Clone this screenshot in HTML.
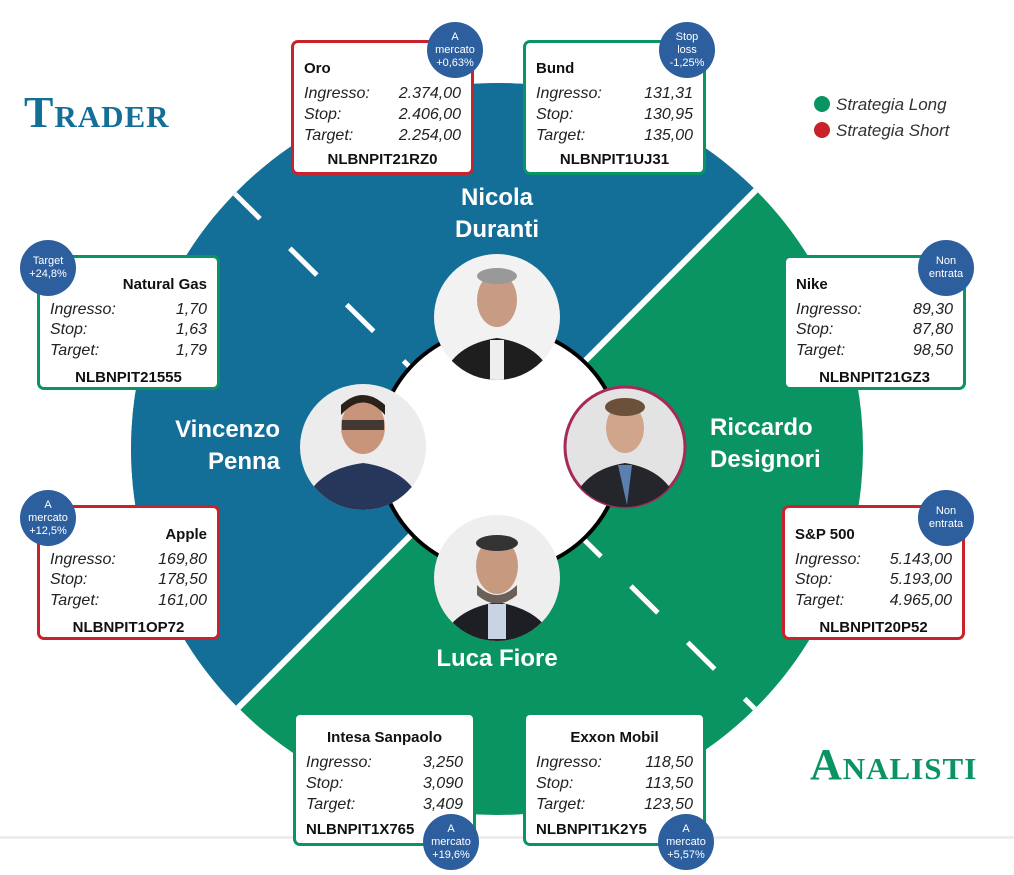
<!DOCTYPE html>
<html><head><meta charset="utf-8">
<style>
*{margin:0;padding:0;box-sizing:border-box}
html,body{width:1014px;height:875px;overflow:hidden}
body{background:#fff;position:relative;font-family:"Liberation Sans",sans-serif}
svg.bg{position:absolute;left:0;top:0}
.card{position:absolute;width:183px;height:135px;background:#fff;border:3px solid #0a9462;border-radius:7px}
.red{border-color:#c8232a}
.card div{position:absolute;left:10px;right:10px;font-size:16px;line-height:18px;color:#222}
.t{font-weight:bold;font-size:15px!important;color:#111!important}
.r{font-style:italic;font-weight:300}
.r span{float:right}
.c{font-weight:bold;text-align:center;font-size:15px!important;color:#111!important}
.badge{position:absolute;width:56px;height:56px;border-radius:50%;background:#2d5f9f;color:#fff;font-size:11px;line-height:13px;text-align:center;display:flex;align-items:center;justify-content:center}
.name{position:absolute;color:#fff;font-weight:bold;font-size:24px;line-height:32px}
.logo{position:absolute;font-family:"Liberation Serif",serif;font-weight:bold;font-variant:small-caps;font-size:44px;line-height:50px;letter-spacing:1px;white-space:nowrap}
.leg{position:absolute;font-style:italic;font-size:17px;color:#333}
.leg i{display:inline-block;width:16px;height:16px;border-radius:50%;vertical-align:-2px;margin-right:6px}
</style></head><body>
<svg class="bg" width="1014" height="875" viewBox="0 0 1014 875">
<defs>
<clipPath id="cc"><circle cx="497" cy="449" r="366"/></clipPath>
<clipPath id="p1"><circle cx="497" cy="317" r="63"/></clipPath>
<clipPath id="p2"><circle cx="363" cy="447" r="63"/></clipPath>
<clipPath id="p3"><circle cx="625" cy="447" r="60"/></clipPath>
<clipPath id="p4"><circle cx="497" cy="578" r="63"/></clipPath>
</defs>
<rect x="0" y="836" width="1014" height="3" fill="#ededed"/>
<g clip-path="url(#cc)">
<rect x="0" y="0" width="1014" height="875" fill="#0a9462"/>
<polygon points="0,0 1000,0 0,1000" transform="translate(-3,-51)" fill="#136f98"/>
<line x1="1000" y1="-54" x2="-6" y2="952" stroke="#fff" stroke-width="6"/>
<line x1="233" y1="192" x2="760" y2="714" stroke="#fff" stroke-width="5" stroke-dasharray="38 42"/>
</g>
<circle cx="500" cy="450" r="122" fill="#fff" stroke="#000" stroke-width="4"/>
<g>
<circle cx="497" cy="317" r="63" fill="#f2f2f2"/>
<g clip-path="url(#p1)"><path d="M440 385 Q450 345 497 338 Q545 345 555 385Z" fill="#1e1e1e"/><rect x="490" y="340" width="14" height="40" fill="#eee"/><ellipse cx="497" cy="300" rx="20" ry="27" fill="#c79b84"/><ellipse cx="497" cy="276" rx="20" ry="8" fill="#999"/></g>
<circle cx="363" cy="447" r="63" fill="#ececec"/>
<g clip-path="url(#p2)"><path d="M300 515 Q310 470 363 463 Q415 470 425 515Z" fill="#27375c"/><ellipse cx="363" cy="427" rx="22" ry="27" fill="#c9957a"/><path d="M341 415 Q363 390 385 415 L385 405 Q363 385 341 405Z" fill="#2b2118"/><rect x="342" y="420" width="42" height="10" fill="#222" opacity=".8"/></g>
<circle cx="625" cy="447" r="60" fill="#e3e3e3" stroke="#a52a5a" stroke-width="3"/>
<g clip-path="url(#p3)"><path d="M570 510 Q580 470 625 463 Q670 470 680 510Z" fill="#25262b"/><path d="M618 465 L632 465 L627 505Z" fill="#5b7fae"/><ellipse cx="625" cy="428" rx="19" ry="25" fill="#d0a58b"/><ellipse cx="625" cy="407" rx="20" ry="9" fill="#6b5139"/></g>
<circle cx="497" cy="578" r="63" fill="#eeeeee"/>
<g clip-path="url(#p4)"><path d="M440 645 Q450 610 497 602 Q545 610 555 645Z" fill="#1e1f24"/><rect x="488" y="604" width="18" height="35" fill="#c8d3e3"/><ellipse cx="497" cy="566" rx="21" ry="28" fill="#c79a80"/><path d="M477 585 Q497 605 517 585 L517 595 Q497 612 477 595Z" fill="#6a6059"/><ellipse cx="497" cy="543" rx="21" ry="8" fill="#333"/></g>
</g>
</svg>

<div class="logo" style="left:24px;top:88px;color:#136f98">Trader</div>
<div class="logo" style="left:810px;top:740px;color:#0a9462">Analisti</div>
<div class="leg" style="left:814px;top:95px"><i style="background:#0a9462"></i>Strategia Long</div>
<div class="leg" style="left:814px;top:121px"><i style="background:#c8232a"></i>Strategia Short</div>

<div class="name" style="left:397px;top:182px;width:200px;text-align:center">Nicola<br>Duranti</div>
<div class="name" style="left:130px;top:414px;width:150px;text-align:right">Vincenzo<br>Penna</div>
<div class="name" style="left:710px;top:412px">Riccardo<br>Designori</div>
<div class="name" style="left:397px;top:643px;width:200px;text-align:center">Luca Fiore</div>

<div class="card red" style="left:291px;top:40px">
<div class="t" style="top:17px">Oro</div>
<div class="r" style="top:42px">Ingresso:<span>2.374,00</span></div>
<div class="r" style="top:63px">Stop:<span>2.406,00</span></div>
<div class="r" style="top:84px">Target:<span>2.254,00</span></div>
<div class="c" style="top:108px">NLBNPIT21RZ0</div></div>
<div class="badge" style="left:427px;top:22px">A<br>mercato<br>+0,63%</div>

<div class="card" style="left:523px;top:40px">
<div class="t" style="top:17px">Bund</div>
<div class="r" style="top:42px">Ingresso:<span>131,31</span></div>
<div class="r" style="top:63px">Stop:<span>130,95</span></div>
<div class="r" style="top:84px">Target:<span>135,00</span></div>
<div class="c" style="top:108px">NLBNPIT1UJ31</div></div>
<div class="badge" style="left:659px;top:22px">Stop<br>loss<br>-1,25%</div>

<div class="card" style="left:37px;top:255px">
<div class="t" style="top:18px;text-align:right">Natural Gas</div>
<div class="r" style="top:43px">Ingresso:<span>1,70</span></div>
<div class="r" style="top:63px">Stop:<span>1,63</span></div>
<div class="r" style="top:84px">Target:<span>1,79</span></div>
<div class="c" style="top:111px">NLBNPIT21555</div></div>
<div class="badge" style="left:20px;top:240px">Target<br>+24,8%</div>

<div class="card" style="left:783px;top:255px">
<div class="t" style="top:18px">Nike</div>
<div class="r" style="top:43px">Ingresso:<span>89,30</span></div>
<div class="r" style="top:63px">Stop:<span>87,80</span></div>
<div class="r" style="top:84px">Target:<span>98,50</span></div>
<div class="c" style="top:111px">NLBNPIT21GZ3</div></div>
<div class="badge" style="left:918px;top:240px">Non<br>entrata</div>

<div class="card red" style="left:37px;top:505px">
<div class="t" style="top:18px;text-align:right">Apple</div>
<div class="r" style="top:43px">Ingresso:<span>169,80</span></div>
<div class="r" style="top:63px">Stop:<span>178,50</span></div>
<div class="r" style="top:84px">Target:<span>161,00</span></div>
<div class="c" style="top:111px">NLBNPIT1OP72</div></div>
<div class="badge" style="left:20px;top:490px">A<br>mercato<br>+12,5%</div>

<div class="card red" style="left:782px;top:505px">
<div class="t" style="top:18px">S&amp;P 500</div>
<div class="r" style="top:43px">Ingresso:<span>5.143,00</span></div>
<div class="r" style="top:63px">Stop:<span>5.193,00</span></div>
<div class="r" style="top:84px">Target:<span>4.965,00</span></div>
<div class="c" style="top:111px">NLBNPIT20P52</div></div>
<div class="badge" style="left:918px;top:490px">Non<br>entrata</div>

<div class="card" style="left:293px;top:712px;height:134px">
<div class="t" style="top:14px;text-align:center">Intesa Sanpaolo</div>
<div class="r" style="top:39px">Ingresso:<span>3,250</span></div>
<div class="r" style="top:60px">Stop:<span>3,090</span></div>
<div class="r" style="top:81px">Target:<span>3,409</span></div>
<div class="c" style="top:106px;text-align:left">NLBNPIT1X765</div></div>
<div class="badge" style="left:423px;top:814px">A<br>mercato<br>+19,6%</div>

<div class="card" style="left:523px;top:712px;height:134px">
<div class="t" style="top:14px;text-align:center">Exxon Mobil</div>
<div class="r" style="top:39px">Ingresso:<span>118,50</span></div>
<div class="r" style="top:60px">Stop:<span>113,50</span></div>
<div class="r" style="top:81px">Target:<span>123,50</span></div>
<div class="c" style="top:106px;text-align:left">NLBNPIT1K2Y5</div></div>
<div class="badge" style="left:658px;top:814px">A<br>mercato<br>+5,57%</div>
</body></html>
